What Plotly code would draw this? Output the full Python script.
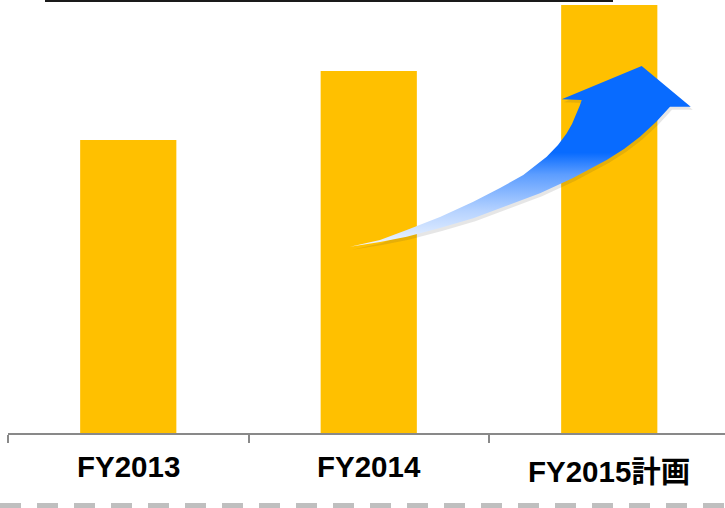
import plotly.graph_objects as go

categories = ["FY2013", "FY2014", "FY2015計画"]
values = [293, 362, 428]
y_max = 433

# decorative arrow outline (pixel coordinates of the plot area, y downward)
arrow_x = [350, 380, 406.7, 440, 473.3, 500, 523.3, 546.7, 558, 566.7, 572, 576.7, 580, 581.7,
           561.7, 641.7, 690.7, 670,
           656, 640, 624, 606.7, 573, 540, 506, 473.3, 440, 406.7, 380, 360, 350]
arrow_y = [246.7, 240, 230, 217, 201.7, 188, 175, 156.7, 145, 133.3, 124, 113.3, 105, 100,
           99.3, 66, 106.7, 106.7,
           122, 136.7, 149, 160, 178, 193.3, 206, 218.3, 228, 236.7, 242, 245.5, 246.7]

W, H = 725, 508
ml, mr, mt, mb = 8, 0, 0, 75
plot_w = W - ml - mr
plot_h = H - mt - mb
cat_w = 240.5
label_centers = [466.7, 466.7, 471.5]  # pixel rows of the label centres

fig = go.Figure()
fig.add_trace(go.Bar(x=categories, y=values, marker=dict(color="#FFC000", line=dict(width=0)),
                     width=0.4, showlegend=False, hoverinfo="skip"))

# shadow
fig.add_trace(go.Scatter(x=[v + 2 for v in arrow_x], y=[v + 3 for v in arrow_y],
                         xaxis="x2", yaxis="y2", mode="lines", fill="toself",
                         fillcolor="rgba(60,60,60,0.13)", line=dict(width=0),
                         showlegend=False, hoverinfo="skip"))
fig.add_trace(go.Scatter(x=arrow_x, y=arrow_y, xaxis="x2", yaxis="y2", mode="lines",
                         fill="toself", line=dict(width=0),
                         fillgradient=dict(type="vertical",
                                           colorscale=[[0, "#F0F6FF"], [0.2, "#B5D2FF"],
                                                       [0.4, "#5C9DFF"], [0.52, "#086BFF"],
                                                       [1, "#086BFF"]]),
                         showlegend=False, hoverinfo="skip"))

annotations = [
    dict(x=c, y=-(cy - plot_h) / plot_h, xref="x", yref="paper", text=c, showarrow=False,
         xanchor="center", yanchor="middle",
         font=dict(family="Liberation Sans, Arial, Noto Sans CJK JP", size=29.5,
                   color="black", weight="bold"))
    for c, cy in zip(categories, label_centers)
]

x_end = 2.5 - (ml + cat_w * 3 - W) / cat_w  # category range visible
fig.update_layout(
    width=W, height=H,
    margin=dict(l=ml, r=mr, t=mt, b=mb, pad=0),
    paper_bgcolor="white", plot_bgcolor="white",
    xaxis=dict(range=[-0.5, x_end], showgrid=False, zeroline=False,
               showline=True, linecolor="#898989", linewidth=1.5,
               ticks="outside", tickson="boundaries", ticklen=8, tickwidth=1.5, tickcolor="#898989",
               showticklabels=False, fixedrange=True),
    yaxis=dict(range=[0, y_max], visible=False, showgrid=False, zeroline=False, fixedrange=True),
    xaxis2=dict(range=[ml, W], overlaying="x", visible=False, fixedrange=True),
    yaxis2=dict(range=[plot_h, 0], overlaying="y", visible=False, fixedrange=True),
    annotations=annotations,
    shapes=[
        dict(type="line", xref="paper", yref="paper",
             x0=(45 - ml) / plot_w, x1=(613 - ml) / plot_w,
             y0=(plot_h - 1) / plot_h, y1=(plot_h - 1) / plot_h,
             line=dict(color="#1a1a1a", width=2)),
        dict(type="line", xref="paper", yref="paper",
             x0=-ml / plot_w, x1=1,
             y0=-(505.5 - plot_h) / plot_h, y1=-(505.5 - plot_h) / plot_h,
             line=dict(color="#BFBFBF", width=5, dash="21px,16px")),
    ],
)

fig.write_html("out.html", config={"displayModeBar": False},
               post_script="document.body.style.margin='0';")
